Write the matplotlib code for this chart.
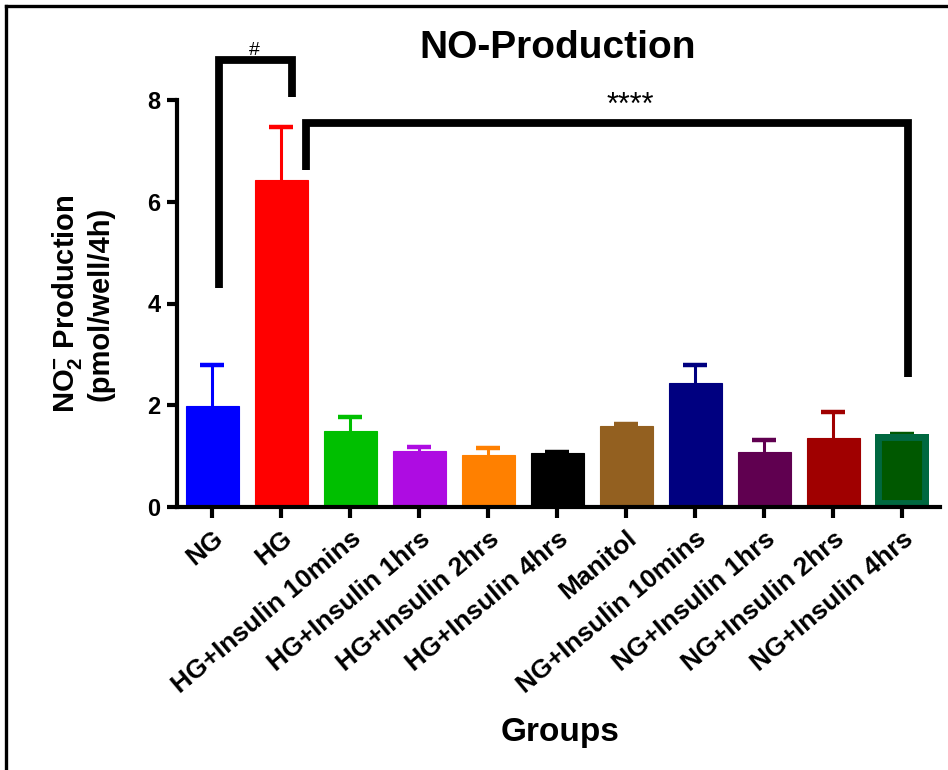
import numpy as np
import matplotlib.pyplot as plt
from matplotlib.lines import Line2D

# данные
groups = ['NG', 'HG', 'HG+Insulin 10mins', 'HG+Insulin 1hrs', 'HG+Insulin 2hrs',
          'HG+Insulin 4hrs', 'Manitol', 'NG+Insulin 10mins', 'NG+Insulin 1hrs',
          'NG+Insulin 2hrs', 'NG+Insulin 4hrs']
means = [1.98, 6.42, 1.50, 1.11, 1.03, 1.07, 1.60, 2.44, 1.09, 1.35, 1.44]
sem = [0.82, 1.05, 0.26, 0.07, 0.13, 0.02, 0.03, 0.36, 0.22, 0.52, 0.0]
colors = ['#0000FF', '#FF0000', '#00BF00', '#AE0CE2', '#FF8000', '#000000',
          '#936020', '#000080', '#600050', '#A00000', '#005800']
last_edge = '#006840'

# скобки значимости
bracket_hash_x = [0.1, 0.1, 1.16, 1.16]
bracket_hash_y = [4.30, 8.78, 8.78, 8.06]
bracket_star_x = [1.36, 1.36, 10.08, 10.08]
bracket_star_y = [6.62, 7.54, 7.54, 2.55]

plt.rcParams['font.family'] = 'Liberation Sans'
plt.rcParams['font.weight'] = 'bold'
plt.rcParams['axes.labelweight'] = 'bold'
plt.rcParams['mathtext.fontset'] = 'custom'
plt.rcParams['mathtext.rm'] = 'Liberation Sans:bold'
plt.rcParams['mathtext.it'] = 'Liberation Sans:bold'
plt.rcParams['mathtext.bf'] = 'Liberation Sans:bold'

W, H = 948, 770
fig = plt.figure(figsize=(W / 100, H / 100), dpi=100)
ax = fig.add_axes([177 / W, 1 - 507 / H, (940 - 177) / W, 407 / H])

x = np.arange(len(groups))
tops = np.array(means) + np.array(sem)

# планки погрешностей (только вверх)
ax.vlines(x, means, tops, colors=colors, lw=2.2, zorder=1)
for i in range(len(groups)):
    ax.plot(x[i], tops[i], marker='_', ms=17, mew=3.2, color=colors[i],
            zorder=1)

bars = ax.bar(x, means, width=0.77, color=colors, edgecolor=colors,
              linewidth=0.8, zorder=2)
last = bars[-1]
last.set_edgecolor(last_edge)
last.set_linewidth(10)
last.set_clip_path(last)

# скобки
ax.plot(bracket_hash_x, bracket_hash_y, color='black', lw=5.6,
        clip_on=False, solid_joinstyle='miter', solid_capstyle='butt')
ax.plot(bracket_star_x, bracket_star_y, color='black', lw=5.6,
        clip_on=False, solid_joinstyle='miter', solid_capstyle='butt')
ax.text(0.61, 8.88, '#', ha='center', va='baseline', fontsize=14,
        fontweight='normal', clip_on=False)
ax.text(6.06, 7.72, '****', ha='center', va='baseline', fontsize=22,
        fontweight='normal', clip_on=False)

ax.set_xlim(-0.51, 10.55)
ax.set_ylim(0, 8)
ax.set_yticks([0, 2, 4, 6, 8])
ax.set_xticks(x)
ax.set_xticklabels(groups, rotation=40, ha='right', va='top',
                   rotation_mode='anchor', fontsize=19)
ax.tick_params(axis='y', labelsize=17, width=3, length=7, pad=5)
ax.tick_params(axis='x', width=3, length=8, pad=6)
ax.spines['top'].set_visible(False)
ax.spines['right'].set_visible(False)
ax.spines['left'].set_linewidth(3)
ax.spines['bottom'].set_linewidth(3)

ax.set_ylabel(r'NO$_2^{-}$ Production' + '\n(pmol/well/4h)', fontsize=21,
              fontweight='bold', va='center', linespacing=1.1)
ax.yaxis.set_label_coords(-0.124, 0.5)

fig.text(558 / W, 1 - 48 / H, 'NO-Production', ha='center', va='center',
         fontsize=28, fontweight='bold')
fig.text(560 / W, 1 - 733 / H, 'Groups', ha='center', va='center',
         fontsize=24, fontweight='bold')

# рамка слева и сверху
fig.add_artist(Line2D([5.5 / W, 5.5 / W], [0, 1 - 5.5 / H], color='black',
                      lw=2.4, transform=fig.transFigure))
fig.add_artist(Line2D([5.5 / W, 1], [1 - 5.5 / H, 1 - 5.5 / H],
                      color='black', lw=2.4, transform=fig.transFigure))

fig.savefig('out.png', dpi=100)
